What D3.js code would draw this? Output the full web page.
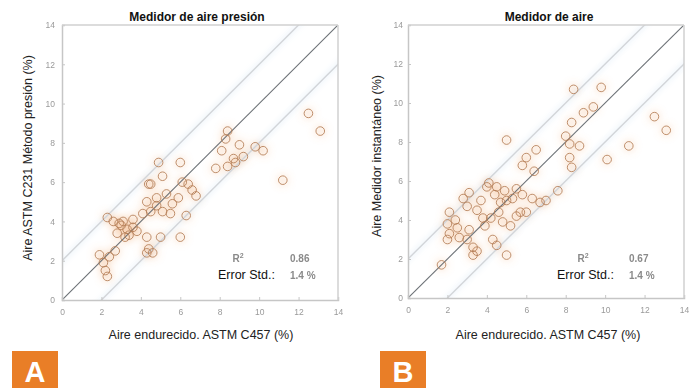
<!DOCTYPE html>
<html><head><meta charset="utf-8">
<script src="https://cdn.jsdelivr.net/npm/d3@7"></script>
<style>
html,body{margin:0;padding:0;background:#fff;}
svg{display:block;font-family:"Liberation Sans",Arial,sans-serif;}
</style></head><body>
<svg id="chart" width="700" height="388"></svg>
<script>
// ---- data ----
const axisTicks = [0, 2, 4, 6, 8, 10, 12, 14];
const bandOffset = 2;

const leftTitle = "Medidor de aire presión";
const leftYLabel = "Aire ASTM C231 Método presión (%)";
const leftX = [12.5,13.1,11.2,8.4,8.3,9.0,9.8,10.2,8.7,8.8,8.4,7.8,9.2,8.1,
  4.9,6.0,5.1,4.4,6.1,6.4,6.6,6.8,5.9,4.5,5.3,4.3,4.8,4.5,5.1,5.5,6.3,4.1,4.8,5.6,
  2.3,2.6,3.1,3.6,3.3,2.8,3.0,3.4,3.8,3.2,2.9,3.6,4.3,5.0,6.0,4.3,4.6,4.4,
  1.9,2.4,2.1,2.2,2.3,2.7];
const leftY = [9.5,8.6,6.1,8.6,8.2,7.9,7.8,7.6,7.2,7.0,6.8,6.7,7.3,7.6,
  7.0,7.0,6.3,5.9,6.0,5.9,5.6,5.3,5.2,5.9,5.4,5.0,5.2,4.5,4.5,4.4,4.3,4.4,4.8,4.9,
  4.2,4.0,4.0,3.7,3.6,3.4,3.8,3.3,3.5,3.2,3.9,4.1,3.2,3.2,3.2,2.4,2.4,2.6,
  2.3,2.2,1.9,1.5,1.2,2.5];
const leftR2 = "0.86";
const leftErr = "1.4 %";

const rightTitle = "Medidor de aire";
const rightYLabel = "Aire Medidor instantáneo (%)";
const rightX = [8.4,9.8,9.4,8.9,8.3,5.0,8.0,8.2,8.7,8.2,8.3,6.5,6.0,5.8,6.4,11.2,10.1,12.5,13.1,7.6,4.1,3.1,
  2.1,2.0,2.5,2.1,2.0,2.6,3.1,3.3,3.3,3.5,4.3,4.5,5.0,1.7,3.8,4.2,5.2,5.5,5.7,6.0,4.7,5.0,5.3,5.8,6.3,6.7,
  4.0,4.5,3.5,3.0,2.8,3.7,4.4,4.9,5.5,4.6,3.9,4.8,3.0,2.4,7.0];
const rightY = [10.7,10.8,9.8,9.5,9.0,8.1,8.3,7.9,7.8,7.2,6.7,7.6,7.2,6.8,6.5,7.8,7.1,9.3,8.6,5.5,5.9,5.4,
  4.4,3.8,3.6,3.3,3.0,3.1,3.5,2.6,2.2,2.4,3.0,2.7,2.2,1.7,4.1,4.1,3.7,4.2,4.4,4.4,4.9,5.0,5.1,5.3,5.1,4.9,
  5.7,5.7,4.5,4.7,5.1,5.0,5.3,5.5,5.6,4.4,3.7,3.9,3.0,4.0,5.0];
const rightR2 = "0.67";
const rightErr = "1.4 %";

const xLabel = "Aire endurecido. ASTM C457 (%)";
const panelLetters = ["A", "B"];

// ---- drawing ----
const svg = d3.select("#chart");
const defs = svg.append("defs");
defs.append("filter").attr("id","halo").attr("x","-50%").attr("y","-50%").attr("width","200%").attr("height","200%")
  .append("feGaussianBlur").attr("stdDeviation", 4);
defs.append("filter").attr("id","soft")
  .append("feGaussianBlur").attr("stdDeviation", 0.5);
defs.append("filter").attr("id","band").attr("x","-10%").attr("y","-10%").attr("width","120%").attr("height","120%")
  .append("feGaussianBlur").attr("stdDeviation", 2.5);

function panel(o) {
  const x = d3.scaleLinear().domain([0, 14]).range([o.x0, o.x1]);
  const y = d3.scaleLinear().domain([0, 14]).range([o.y0, o.y1]);
  const g = svg.append("g");
  const clipId = "clip" + o.letter;
  defs.append("clipPath").attr("id", clipId).append("rect")
    .attr("x", o.x0).attr("y", o.y1).attr("width", o.x1 - o.x0).attr("height", o.y0 - o.y1);

  const pts = o.xs.map((v, i) => [v, o.ys[i]]);
  const plot = g.append("g").attr("clip-path", `url(#${clipId})`);

  // faint blue band around the reference lines
  const line = d3.line().x(d => x(d[0])).y(d => y(d[1]));
  [bandOffset, -bandOffset].forEach(off => {
    plot.append("path").datum([[-2, -2 + off], [16, 16 + off]]).attr("d", line)
      .attr("stroke", "#e3eef8").attr("stroke-width", 6).attr("fill", "none")
      .attr("opacity", 0.45).attr("filter", "url(#band)");
  });

  // orange halo behind points
  plot.append("g").attr("filter", "url(#halo)").selectAll("circle").data(pts).join("circle")
    .attr("cx", d => x(d[0])).attr("cy", d => y(d[1])).attr("r", 5)
    .attr("fill", "#f0a060").attr("opacity", 0.33);

  // reference lines
  [bandOffset, -bandOffset].forEach(off => {
    plot.append("path").datum([[-2, -2 + off], [16, 16 + off]]).attr("d", line)
      .attr("stroke", "#d2d5d9").attr("stroke-width", 1.4).attr("fill", "none");
  });
  plot.append("path").datum([[0, 0], [14, 14]]).attr("d", line)
    .attr("stroke", "#6d7277").attr("stroke-width", 1.1).attr("fill", "none");

  // points
  plot.append("g").selectAll("circle").data(pts).join("circle")
    .attr("cx", d => x(d[0])).attr("cy", d => y(d[1])).attr("r", 4.3)
    .attr("fill", "none").attr("stroke", "#b47c55").attr("stroke-width", 1)
    .attr("opacity", 0.85);

  // frame + axes
  const ax = g.append("g").attr("transform", `translate(0,${o.y0})`)
    .call(d3.axisBottom(x).tickValues(axisTicks).tickSize(-3).tickPadding(9));
  const ay = g.append("g").attr("transform", `translate(${o.x0},0)`)
    .call(d3.axisLeft(y).tickValues(axisTicks).tickSize(-3).tickPadding(o.ypad));
  [ax, ay].forEach(a => {
    a.select(".domain").attr("stroke", "#c6c6c6").attr("stroke-width", 1.5);
    a.selectAll(".tick line").attr("stroke", "#c6c6c6");
    a.selectAll(".tick text").attr("fill", "#9a9a9a").attr("font-size", 8.5)
      .attr("font-family", "'Liberation Sans',Arial,sans-serif").attr("filter", "url(#soft)");
  });
  g.append("line").attr("x1", o.x0).attr("x2", o.x1).attr("y1", o.y1).attr("y2", o.y1)
    .attr("stroke", "#d0d0d0").attr("stroke-width", 1.5);
  g.append("line").attr("x1", o.x1).attr("x2", o.x1).attr("y1", o.y1).attr("y2", o.y0)
    .attr("stroke", "#d0d0d0").attr("stroke-width", 1.5);

  // title
  g.append("text").attr("x", o.titleX).attr("y", 21).attr("text-anchor", "middle")
    .attr("font-weight", "bold").attr("font-size", 12).attr("fill", "#111").text(o.title);
  // x label
  g.append("text").attr("x", o.xLabelX).attr("y", 339).attr("text-anchor", "middle")
    .attr("font-size", 12.5).attr("fill", "#222").text(xLabel);
  // y label
  g.append("text").attr("transform", `translate(${o.yLabelX},${o.yLabelY}) rotate(-90)`)
    .attr("text-anchor", "middle").attr("font-size", 12.5).attr("fill", "#222").text(o.yLabel);

  // stats
  g.append("text").attr("x", o.statX - 2).attr("y", 262).attr("text-anchor", "middle")
    .attr("font-size", 10).attr("font-weight", "bold").attr("fill", "#8a8a8a").attr("filter", "url(#soft)")
    .html("R<tspan dy='-4' font-size='7'>2</tspan>");
  g.append("text").attr("x", o.valX).attr("y", 262).attr("font-size", 10).attr("font-weight", "bold")
    .attr("fill", "#8a8a8a").attr("filter", "url(#soft)").text(o.r2);
  g.append("text").attr("x", o.errX).attr("y", 279).attr("font-size", 12.5)
    .attr("fill", "#111").text("Error Std.:");
  g.append("text").attr("x", o.valX).attr("y", 279).attr("font-size", 10).attr("font-weight", "bold")
    .attr("fill", "#8a8a8a").attr("filter", "url(#soft)").text(o.err);

  // panel letter
  g.append("rect").attr("x", o.boxX).attr("y", 351).attr("width", 46).attr("height", 37)
    .attr("fill", "#e97e27");
  g.append("text").attr("x", o.boxX + 23).attr("y", 382).attr("text-anchor", "middle")
    .attr("font-size", 29).attr("font-weight", "bold").attr("fill", "#fff").text(o.letter);
}

panel({letter: panelLetters[0], x0: 62, x1: 338, y0: 300, y1: 25, ypad: 7,
  xs: leftX, ys: leftY, title: leftTitle, titleX: 197, xLabelX: 201,
  yLabel: leftYLabel, yLabelX: 32, yLabelY: 158,
  statX: 240, valX: 290, errX: 218, r2: leftR2, err: leftErr, boxX: 12});
panel({letter: panelLetters[1], x0: 408, x1: 684, y0: 298, y1: 25, ypad: 5,
  xs: rightX, ys: rightY, title: rightTitle, titleX: 549, xLabelX: 548,
  yLabel: rightYLabel, yLabelX: 381, yLabelY: 156,
  statX: 585, valX: 629, errX: 557, r2: rightR2, err: rightErr, boxX: 380});
</script>
</body></html>
